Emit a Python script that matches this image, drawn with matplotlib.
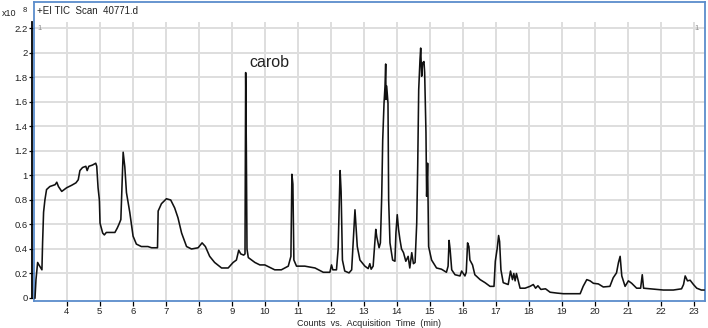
import matplotlib
matplotlib.use("Agg")
import matplotlib.pyplot as plt
import matplotlib.transforms as mtransforms

plt.rcParams['font.family'] = ['Liberation Sans', 'DejaVu Sans']

# TIC trace, counts in units of 1e8
TIME_MIN = [3.04, 3.07, 3.12, 3.16, 3.25, 3.27, 3.30, 3.34, 3.39, 3.49, 3.65, 3.70, 3.75, 3.85,
            4.00, 4.15, 4.28, 4.35, 4.40, 4.48, 4.58, 4.62, 4.67, 4.78, 4.88, 4.91, 4.95, 4.99,
            5.01, 5.09, 5.14, 5.20, 5.46, 5.53, 5.58, 5.64, 5.71, 5.76, 5.81, 5.91, 6.01, 6.11,
            6.26, 6.46, 6.57, 6.75, 6.77, 6.87, 7.02, 7.15, 7.27, 7.37, 7.48, 7.63, 7.78, 7.98,
            8.10, 8.20, 8.33, 8.48, 8.69, 8.89, 9.04, 9.14, 9.21, 9.27, 9.36, 9.40, 9.42, 9.44,
            9.46, 9.50, 9.70, 9.85, 10.00, 10.30, 10.50, 10.71, 10.79, 10.82, 10.85, 10.88, 10.96,
            11.21, 11.52, 11.77, 11.97, 12.02, 12.06, 12.17, 12.22, 12.28, 12.31, 12.35, 12.42,
            12.55, 12.63, 12.68, 12.73, 12.76, 12.80, 12.88, 13.03, 13.13, 13.18, 13.22, 13.28,
            13.33, 13.36, 13.39, 13.46, 13.50, 13.54, 13.57, 13.61, 13.64, 13.66, 13.67, 13.69,
            13.73, 13.75, 13.79, 13.87, 13.94, 13.97, 14.01, 14.05, 14.09, 14.14, 14.20, 14.27,
            14.34, 14.39, 14.45, 14.50, 14.55, 14.60, 14.63, 14.66, 14.70, 14.72, 14.75, 14.78,
            14.82, 14.84, 14.88, 14.90, 14.93, 14.96, 15.05, 15.20, 15.35, 15.50, 15.55, 15.58,
            15.61, 15.66, 15.76, 15.91, 15.96, 16.01, 16.06, 16.10, 16.14, 16.18, 16.21, 16.29,
            16.36, 16.52, 16.67, 16.82, 16.94, 16.98, 17.04, 17.08, 17.11, 17.15, 17.22, 17.37,
            17.44, 17.50, 17.54, 17.58, 17.62, 17.73, 17.88, 18.03, 18.13, 18.20, 18.27, 18.36,
            18.50, 18.64, 18.85, 19.04, 19.55, 19.64, 19.75, 19.85, 19.95, 20.10, 20.25, 20.45,
            20.55, 20.65, 20.71, 20.76, 20.81, 20.91, 21.01, 21.11, 21.26, 21.38, 21.43, 21.47,
            21.68, 22.07, 22.37, 22.62, 22.68, 22.73, 22.80, 22.88, 22.98, 23.08, 23.22, 23.30]
TIC_E8 = [0.00, 0.15, 0.29, 0.27, 0.23, 0.45, 0.70, 0.80, 0.885, 0.91, 0.925, 0.945, 0.91, 0.87,
          0.90, 0.92, 0.94, 0.965, 1.04, 1.065, 1.075, 1.04, 1.075, 1.085, 1.10, 1.075, 0.90, 0.80,
          0.61, 0.53, 0.515, 0.535, 0.535, 0.57, 0.60, 0.64, 1.19, 1.07, 0.86, 0.70, 0.505, 0.44,
          0.42, 0.42, 0.41, 0.41, 0.71, 0.77, 0.81, 0.80, 0.735, 0.655, 0.53, 0.42, 0.40, 0.41,
          0.45, 0.42, 0.34, 0.29, 0.245, 0.245, 0.29, 0.31, 0.39, 0.36, 0.35, 0.36, 1.84, 1.23,
          0.40, 0.33, 0.29, 0.27, 0.27, 0.23, 0.23, 0.26, 0.34, 1.01, 0.93, 0.31, 0.26,
          0.26, 0.245, 0.21, 0.21, 0.27, 0.23, 0.23, 0.40, 1.04, 0.87, 0.31, 0.22,
          0.205, 0.23, 0.48, 0.72, 0.59, 0.42, 0.31, 0.26, 0.24, 0.28, 0.235, 0.26,
          0.45, 0.56, 0.50, 0.41, 0.45, 0.83, 1.29, 1.59, 1.73, 1.91, 1.62, 1.73,
          1.59, 0.80, 0.45, 0.31, 0.30, 0.53, 0.68, 0.56, 0.48, 0.40, 0.37, 0.30,
          0.34, 0.245, 0.37, 0.28, 0.29, 0.61, 1.08, 1.70, 1.95, 2.04, 1.81, 1.92,
          1.93, 1.84, 1.35, 0.83, 1.10, 0.42, 0.31, 0.245, 0.235, 0.21, 0.26, 0.47,
          0.40, 0.23, 0.19, 0.18, 0.22, 0.20, 0.18, 0.21, 0.45, 0.42, 0.31, 0.27,
          0.19, 0.15, 0.125, 0.095, 0.095, 0.30, 0.41, 0.51, 0.46, 0.23, 0.125, 0.11,
          0.22, 0.15, 0.20, 0.14, 0.20, 0.08, 0.08, 0.095, 0.11, 0.08, 0.10, 0.07,
          0.075, 0.047, 0.04, 0.035, 0.035, 0.095, 0.15, 0.14, 0.12, 0.115, 0.09, 0.095,
          0.165, 0.205, 0.29, 0.34, 0.18, 0.095, 0.14, 0.12, 0.08, 0.08, 0.19, 0.08,
          0.075, 0.065, 0.065, 0.075, 0.11, 0.18, 0.14, 0.145, 0.11, 0.08, 0.065, 0.065]

X_TICKS = list(range(4, 24))
Y_TICKS = [0, 0.2, 0.4, 0.6, 0.8, 1.0, 1.2, 1.4, 1.6, 1.8, 2.0, 2.2]
Y_LABELS = ['0', '0.2', '0.4', '0.6', '0.8', '1', '1.2', '1.4', '1.6', '1.8', '2', '2.2']
TITLE = '+EI TIC  Scan  40771.d'
X_LABEL = 'Counts  vs.  Acquisition  Time  (min)'
PEAK_NAME = 'carob'
PEAK_POS = (9.53, 1.885)

W, H = 708, 328
fig = plt.figure(figsize=(W / 100, H / 100), dpi=100, facecolor='white')
ax = fig.add_axes([34 / W, 27 / H, 671 / W, 299 / H])
ax.set_xlim(3.01, 23.33)
ax.set_ylim(-0.0245, 2.416)

frame_blue = '#5b8ccc'
grid_gray = '#dedede'
for s in ax.spines.values():
    s.set_color(frame_blue)
    s.set_linewidth(1.3)

# grid
ax.vlines(X_TICKS, -0.0245, 2.255, colors=grid_gray, linewidth=1.4, zorder=0)
ax.hlines(Y_TICKS[1:], 3.01, 23.33, colors=grid_gray, linewidth=1.4, zorder=0)

ax.plot(TIME_MIN, TIC_E8, color='#111111', linewidth=1.15, zorder=3)

# black y axis line just left of the frame
off = mtransforms.ScaledTranslation(-2 / 100, 0, fig.dpi_scale_trans)
tr = mtransforms.blended_transform_factory(ax.transAxes + off, ax.transData)
ax.plot([0, 0], [0, 2.255], color='black', linewidth=1.3, transform=tr, clip_on=False)

ax.set_xticks(X_TICKS)
ax.set_xticklabels([str(t) for t in X_TICKS])
ax.set_yticks(Y_TICKS)
ax.set_yticklabels(Y_LABELS)
ax.tick_params(axis='both', direction='out', length=3.5, width=0.9, color='black',
               labelsize=6.8, labelcolor='#222222')
ax.tick_params(axis='y', pad=1)
ax.tick_params(axis='x', pad=0.5)

ax.text(PEAK_POS[0], PEAK_POS[1], PEAK_NAME, fontsize=11.5, color='#222222',
        ha='left', va='baseline', zorder=4)

fig.text(37 / W, 1 - 11 / H, TITLE, fontsize=7, color='#222222', va='center', ha='left')
fig.text(369 / W, 1 - 323 / H, X_LABEL, fontsize=6.5, color='#222222', va='center', ha='center')
fig.text(2 / W, 1 - 14 / H, 'x10', fontsize=6.5, color='#222222', va='center', ha='left')
fig.text(23 / W, 1 - 10 / H, '8', fontsize=5.5, color='#222222', va='center', ha='left')
fig.text(37 / W, 1 - 28 / H, '1', fontsize=5.5, color='#888888', va='center', ha='left')
fig.text(699 / W, 1 - 28 / H, '1', fontsize=5.5, color='#888888', va='center', ha='right')

fig.savefig('out.png', dpi=100, facecolor='white')
